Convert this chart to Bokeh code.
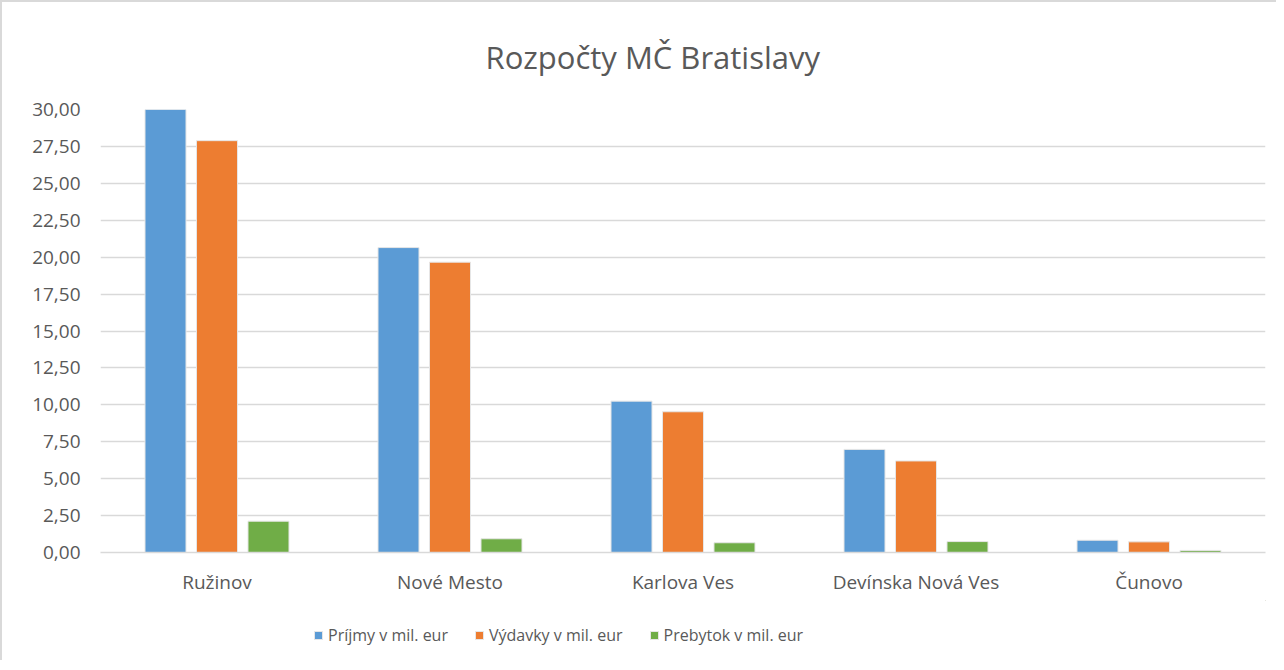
from bokeh.plotting import figure
from bokeh.layouts import column
from bokeh.models import (ColumnDataSource, FactorRange, Range1d, Legend, LegendItem,
                          CustomJSTickFormatter, SingleIntervalTicker)
from bokeh.transform import dodge
from bokeh.embed import file_html
from bokeh.resources import INLINE

districts = ["Ružinov", "Nové Mesto", "Karlova Ves", "Devínska Nová Ves", "Čunovo"]
prijmy = [30.00, 20.65, 10.25, 6.98, 0.83]
vydavky = [27.89, 19.66, 9.53, 6.20, 0.72]
prebytok = [2.12, 0.93, 0.66, 0.74, 0.14]
series_labels = ["Príjmy v mil. eur", "Výdavky v mil. eur", "Prebytok v mil. eur"]
series_colors = ["#5B9BD5", "#ED7D31", "#70AD47"]
title_text = "Rozpočty MČ Bratislavy"

FONT = "Open Sans"
TEXT = "#595959"
GRID = "#D9D9D9"
EDGE = "#E6E6E6"

source = ColumnDataSource(dict(d=districts, p=prijmy, v=vydavky, b=prebytok))

p = figure(x_range=FactorRange(*districts, range_padding=0), y_range=Range1d(0, 30),
           width=1274, height=598, output_backend="svg", toolbar_location=None,
           min_border_left=98, min_border_right=11, min_border_top=106, min_border_bottom=48)

p.title.text = title_text
p.title.text_font = FONT
p.title.text_font_size = "31px"
p.title.text_font_style = "normal"
p.title.text_color = TEXT
p.title.align = "left"
p.title.offset = 385
p.title.standoff = 63

w = 0.176
off = 0.221
p.vbar(x=dodge("d", -off, range=p.x_range), top="p", width=w, source=source,
       fill_color=series_colors[0], line_color=EDGE, line_width=1)
p.vbar(x=dodge("d", 0.0, range=p.x_range), top="v", width=w, source=source,
       fill_color=series_colors[1], line_color=EDGE, line_width=1)
p.vbar(x=dodge("d", off, range=p.x_range), top="b", width=w, source=source,
       fill_color=series_colors[2], line_color=EDGE, line_width=1)

p.outline_line_color = None
p.xgrid.grid_line_color = None
p.ygrid.grid_line_color = GRID
p.ygrid.grid_line_width = 1.3

p.yaxis.ticker = SingleIntervalTicker(interval=2.5)
p.yaxis.formatter = CustomJSTickFormatter(code="return tick.toFixed(2).replace('.', ',');")
p.yaxis.axis_line_color = None
p.yaxis.major_tick_line_color = None
p.yaxis.minor_tick_line_color = None
p.yaxis.major_label_standoff = 14
p.yaxis.major_label_text_font = FONT
p.yaxis.major_label_text_font_size = "19px"
p.yaxis.major_label_text_color = TEXT

p.xaxis.axis_line_color = GRID
p.xaxis.axis_line_width = 1.3
p.xaxis.major_tick_line_color = None
p.xaxis.minor_tick_line_color = None
p.xaxis.major_label_standoff = 10
p.xaxis.major_label_text_font = FONT
p.xaxis.major_label_text_font_size = "19px"
p.xaxis.major_label_text_color = TEXT

# legend strip below the chart (swatch renderers sit outside the visible range)
p2 = figure(x_range=Range1d(0, 1), y_range=Range1d(0, 1), width=1274, height=60,
            x_axis_type=None, y_axis_type=None,
            output_backend="svg", toolbar_location=None, min_border=0)
p2.grid.grid_line_color = None
p2.outline_line_color = None
rs = [p2.vbar(x=[5], top=[5], bottom=[4], width=0.1, fill_color=c, line_color=EDGE)
      for c in series_colors]

legend = Legend(items=[LegendItem(label=lab, renderers=[r]) for lab, r in zip(series_labels, rs)],
                orientation="horizontal", location=(213, 14))
legend.border_line_color = None
legend.background_fill_alpha = 0
legend.glyph_width = 10
legend.glyph_height = 10
legend.label_standoff = 5
legend.spacing = 26
legend.padding = 4
legend.margin = 0
legend.label_text_font = FONT
legend.label_text_font_size = "16px"
legend.label_text_color = TEXT
p2.add_layout(legend, "center")

layout = column(p, p2, spacing=0,
                styles={"border-left": "2px solid #D9D9D9", "border-top": "2px solid #D9D9D9"})

open("out.html", "w").write(file_html(layout, INLINE))
